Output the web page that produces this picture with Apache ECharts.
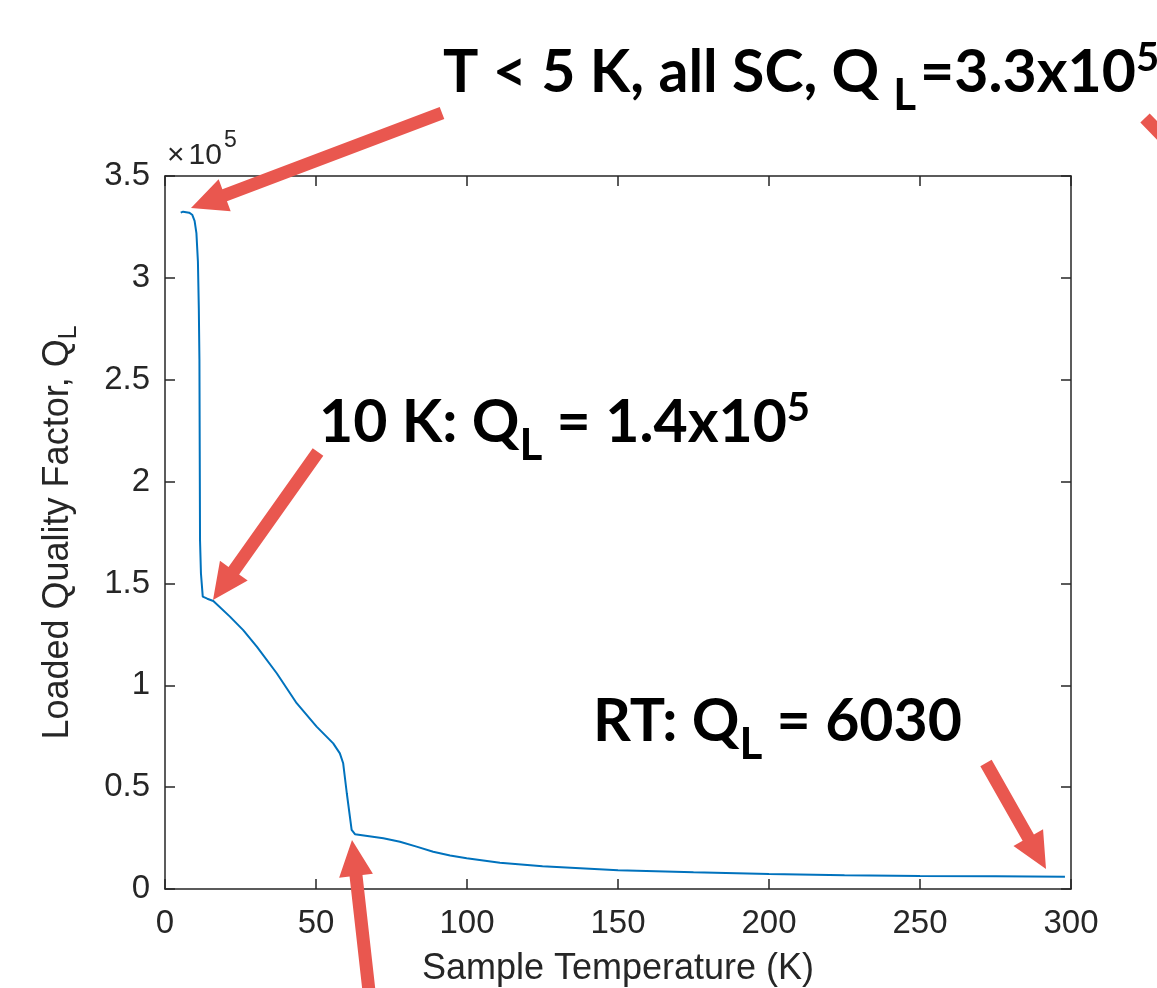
<!DOCTYPE html>
<html>
<head>
<meta charset="utf-8">
<script src="https://cdn.jsdelivr.net/npm/echarts@6/dist/echarts.min.js"></script>
<style>
  html, body { margin: 0; padding: 0; background: #ffffff; }
  #chart { width: 1157px; height: 988px; }
</style>
</head>
<body>
<div id="chart"></div>
<script>
// Sample temperature sweep (K)
const temperatureK = [
  5.2, 6.0, 8.0, 9.0, 9.8, 10.4, 10.9, 11.2, 11.4, 11.5, 11.6, 11.9, 12.5,
  14.0, 16.0, 21.5, 25.9, 30.4, 37.0, 43.6, 50.2, 55.7, 57.9, 59.0, 60.2, 61.8, 62.9,
  72.3, 77.8, 83.3, 88.8, 94.4, 99.9, 110.9, 125.0, 150.0, 175.0, 200.0, 225.0, 250.0, 275.0, 298.0
];
// Loaded quality factor Q_L at each temperature
const loadedQ = [
  332000, 332500, 332000, 331000, 328000, 322000, 308000, 285000, 260000, 215000, 171000, 155000, 143500,
  142500, 141400, 133700, 127100, 119000, 105900, 91200, 79700, 71500, 66600, 61700, 47000, 29000, 26900,
  24900, 23200, 20800, 18300, 16400, 15100, 12900, 11200, 9200, 8200, 7400, 6800, 6400, 6200, 6030
];
// Axis tick labels (Q_L shown in units of 10^5)
const xTickLabels = ['0', '50', '100', '150', '200', '250', '300'];
const yTickLabels = ['0', '0.5', '1', '1.5', '2', '2.5', '3', '3.5'];

const AXIS_COLOR = '#262626';
const LINE_COLOR = '#0072BD';
const ARROW_COLOR = '#E9574F';
const AXIS_FONT = '"Liberation Sans", Arial, Helvetica, sans-serif';
const NOTE_FONT = 'Lato, "Noto Sans", sans-serif';

const chart = echarts.init(document.getElementById('chart'), null, { renderer: 'canvas' });

const seriesData = temperatureK.map((t, i) => [t, loadedQ[i]]);

const baseAxisLine = { show: true, onZero: false, lineStyle: { color: AXIS_COLOR, width: 1.5 } };
const baseTick = { show: true, inside: true, length: 10, lineStyle: { color: AXIS_COLOR, width: 1.5 } };

// Arrow outline: shaft plus triangular head pointing from tail to tip
function arrowPoints(tail, tip, shaftW, headLen, headW) {
  const dx = tip[0] - tail[0], dy = tip[1] - tail[1];
  const len = Math.hypot(dx, dy);
  const ux = dx / len, uy = dy / len;
  const nx = -uy, ny = ux;
  const bx = tip[0] - ux * headLen, by = tip[1] - uy * headLen;
  const s = shaftW / 2, h = headW / 2;
  return [
    [tail[0] + nx * s, tail[1] + ny * s],
    [bx + nx * s, by + ny * s],
    [bx + nx * h, by + ny * h],
    [tip[0], tip[1]],
    [bx - nx * h, by - ny * h],
    [bx - nx * s, by - ny * s],
    [tail[0] - nx * s, tail[1] - ny * s]
  ];
}

function arrow(tail, tip) {
  return {
    type: 'polygon',
    z: 100,
    silent: true,
    shape: { points: arrowPoints(tail, tip, 13, 36, 34) },
    style: { fill: ARROW_COLOR }
  };
}

const noteRich = {
  m: { fontFamily: NOTE_FONT, fontWeight: 'bold', fontSize: 59, lineHeight: 70, color: '#000' },
  sub: { fontFamily: NOTE_FONT, fontWeight: 'bold', fontSize: 44, height: 25, verticalAlign: 'bottom', color: '#000' },
  subw: { fontFamily: NOTE_FONT, fontWeight: 'bold', fontSize: 44, height: 25, verticalAlign: 'bottom', padding: [0, 4, 0, 14], color: '#000' },
  sup: { fontFamily: NOTE_FONT, fontWeight: 'bold', fontSize: 40, height: 40, verticalAlign: 'top', color: '#000' }
};

function note(x, y, text) {
  return {
    type: 'text',
    z: 100,
    silent: true,
    x: x,
    y: y,
    style: {
      text: text,
      align: 'left',
      verticalAlign: 'top',
      fontFamily: NOTE_FONT,
      fontWeight: 'bold',
      fontSize: 59,
      lineHeight: 70,
      fill: '#000',
      rich: noteRich
    }
  };
}

const option = {
  animation: false,
  backgroundColor: '#ffffff',
  grid: { left: 165, right: 86, top: 176, bottom: 99, outerBoundsMode: 'none' },
  xAxis: [
    {
      type: 'value',
      position: 'bottom',
      min: 0, max: 300, interval: 50,
      name: 'Sample Temperature (K)',
      nameLocation: 'middle',
      nameGap: 62,
      nameTextStyle: { fontFamily: AXIS_FONT, fontSize: 36, color: AXIS_COLOR },
      axisLine: baseAxisLine,
      axisTick: baseTick,
      splitLine: { show: false },
      axisLabel: {
        margin: 18,
        fontFamily: AXIS_FONT, fontSize: 33, color: AXIS_COLOR,
        formatter: (v) => xTickLabels[Math.round(v / 50)]
      }
    },
    {
      type: 'value',
      position: 'top',
      min: 0, max: 300, interval: 50,
      axisLine: baseAxisLine,
      axisTick: baseTick,
      splitLine: { show: false },
      axisLabel: { show: false }
    }
  ],
  yAxis: [
    {
      type: 'value',
      position: 'left',
      min: 0, max: 350000, interval: 50000,
      name: 'Loaded Quality Factor, Q{s|L}',
      nameLocation: 'middle',
      nameGap: 87,
      nameRotate: 90,
      nameTextStyle: {
        fontFamily: AXIS_FONT, fontSize: 36, lineHeight: 40, color: AXIS_COLOR,
        rich: { s: { fontFamily: AXIS_FONT, fontSize: 25, height: 18, verticalAlign: 'bottom', color: AXIS_COLOR } }
      },
      axisLine: baseAxisLine,
      axisTick: baseTick,
      splitLine: { show: false },
      axisLabel: {
        margin: 15,
        fontFamily: AXIS_FONT, fontSize: 33, color: AXIS_COLOR,
        formatter: (v) => yTickLabels[Math.round(v / 50000)]
      }
    },
    {
      type: 'value',
      position: 'right',
      min: 0, max: 350000, interval: 50000,
      axisLine: baseAxisLine,
      axisTick: baseTick,
      splitLine: { show: false },
      axisLabel: { show: false }
    }
  ],
  series: [
    {
      type: 'line',
      xAxisIndex: 0,
      yAxisIndex: 0,
      data: seriesData,
      showSymbol: false,
      symbol: 'none',
      lineStyle: { color: LINE_COLOR, width: 2 },
      z: 5
    }
  ],
  graphic: [
    // exponent for the y axis
    {
      type: 'text',
      silent: true,
      x: 167,
      y: 139,
      style: {
        text: '{x|×}10{e|5}',
        align: 'left',
        verticalAlign: 'top',
        fontFamily: AXIS_FONT,
        fontSize: 30,
        lineHeight: 34,
        fill: AXIS_COLOR,
        rich: {
          x: { fontFamily: AXIS_FONT, fontSize: 30, padding: [0, 4, 0, 0], color: AXIS_COLOR },
          e: { fontFamily: AXIS_FONT, fontSize: 23, height: 3, verticalAlign: 'top', padding: [0, 0, 0, 2], color: AXIS_COLOR }
        }
      }
    },
    note(443, 38, '{m|T < 5 K, all SC, Q}{subw|L}{m|=3.3x10}{sup|5}'),
    note(319, 388, '{m|10 K: Q}{sub|L}{m| = 1.4x10}{sup|5}'),
    note(593, 687, '{m|RT: Q}{sub|L}{m| = 6030}'),
    arrow([442, 113], [191, 208]),
    arrow([1145, 118], [1215, 190]),
    arrow([318, 452], [213, 600]),
    arrow([370, 1000], [352, 840]),
    arrow([986, 763], [1046, 869])
  ]
};

chart.setOption(option);
</script>
</body>
</html>
